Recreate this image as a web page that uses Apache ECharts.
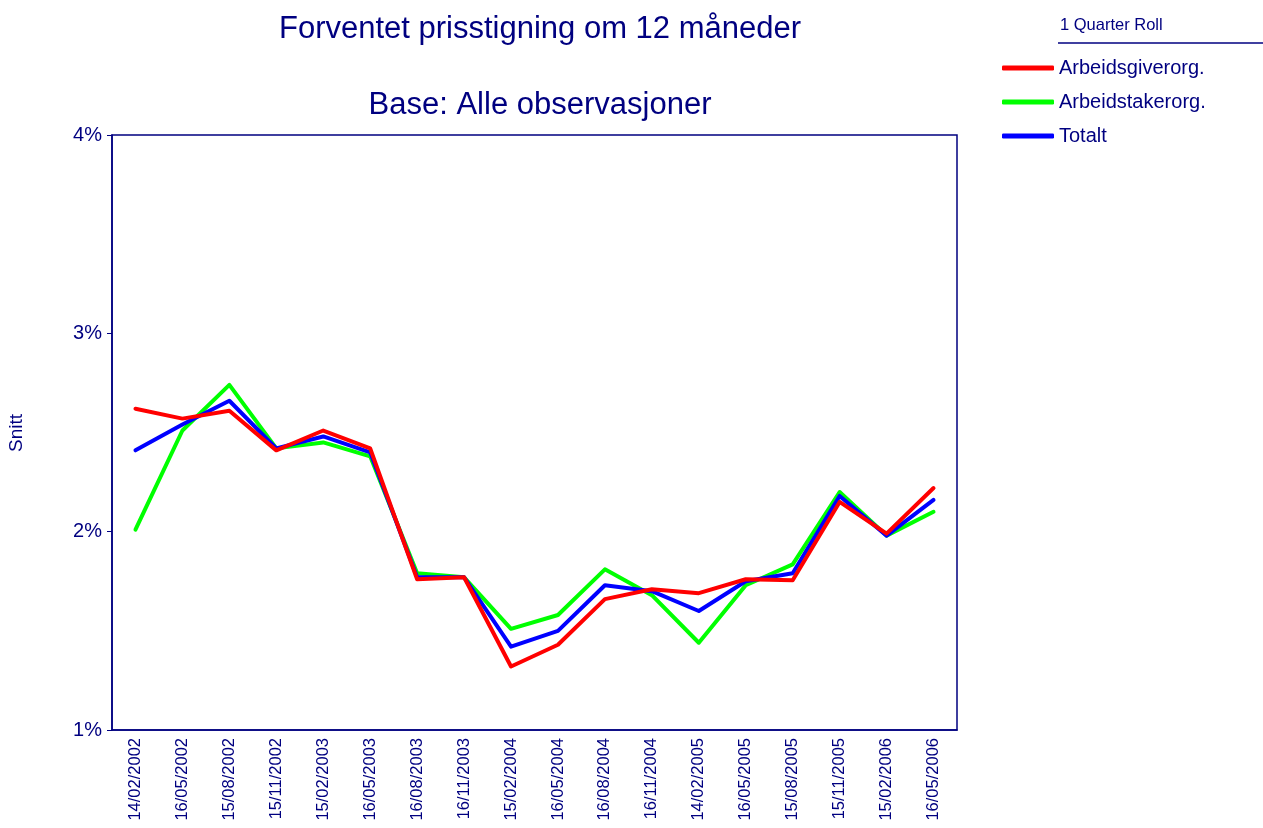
<!DOCTYPE html>
<html>
<head>
<meta charset="utf-8">
<script src="https://cdn.jsdelivr.net/npm/echarts@6/dist/echarts.min.js"></script>
<style>
html, body { margin: 0; padding: 0; background: #fff; }
#chart { width: 1263px; height: 828px; }
</style>
</head>
<body>
<div id="chart"></div>
<script>
// data
const dates = ['14/02/2002', '16/05/2002', '15/08/2002', '15/11/2002', '15/02/2003', '16/05/2003',
  '16/08/2003', '16/11/2003', '15/02/2004', '16/05/2004', '16/08/2004', '16/11/2004',
  '14/02/2005', '16/05/2005', '15/08/2005', '15/11/2005', '15/02/2006', '16/05/2006'];
const arbeidsgiver = [2.62, 2.57, 2.61, 2.41, 2.51, 2.42, 1.76, 1.77, 1.32, 1.43, 1.66, 1.71, 1.69, 1.76, 1.755, 2.15, 1.99, 2.22];
const arbeidstaker = [2.01, 2.51, 2.74, 2.42, 2.45, 2.38, 1.79, 1.77, 1.51, 1.58, 1.81, 1.68, 1.44, 1.73, 1.835, 2.20, 1.98, 2.10];
const totalt = [2.41, 2.54, 2.66, 2.42, 2.48, 2.40, 1.77, 1.77, 1.42, 1.50, 1.73, 1.70, 1.60, 1.75, 1.79, 2.18, 1.98, 2.16];
const yTicks = [1, 2, 3, 4];

const navy = '#000080';
const font = 'Arial, "Liberation Sans", sans-serif';

const chart = echarts.init(document.getElementById('chart'));

function line(name, data, color) {
  return {
    name: name,
    type: 'line',
    data: data,
    symbol: 'none',
    lineStyle: { color: color, width: 4, cap: 'round', join: 'round' },
    itemStyle: { color: color },
    animation: false
  };
}

chart.setOption({
  backgroundColor: '#fff',
  textStyle: { fontFamily: font },
  title: [
    { text: 'Forventet prisstigning om 12 måneder', left: 535, textAlign: 'center', top: 9,
      textStyle: { color: navy, fontSize: 31, fontWeight: 'normal', fontFamily: font } },
    { text: 'Base: Alle observasjoner', left: 535, textAlign: 'center', top: 85,
      textStyle: { color: navy, fontSize: 31, fontWeight: 'normal', fontFamily: font } }
  ],
  legend: {
    data: ['Arbeidsgiverorg.', 'Arbeidstakerorg.', 'Totalt'],
    orient: 'vertical',
    left: 997,
    top: 53,
    itemWidth: 52,
    itemHeight: 5,
    itemGap: 14,
    icon: 'roundRect',
    textStyle: { color: navy, fontSize: 20, fontFamily: font }
  },
  graphic: [
    { type: 'text', left: 1060, top: 17, style: { text: '1 Quarter Roll', fill: navy, fontSize: 16.5, fontFamily: font } },
    { type: 'line', shape: { x1: 1058, y1: 43, x2: 1263, y2: 43 }, style: { stroke: navy, lineWidth: 1.5 } },
    { type: 'text', rotation: Math.PI / 2, left: 7, top: 414, style: { text: 'Snitt', fill: navy, fontSize: 19, fontFamily: font } }
  ],
  grid: {
    left: 112, right: 306, top: 135, bottom: 98,
    show: true, borderColor: navy, borderWidth: 1.5, backgroundColor: '#fff'
  },
  xAxis: {
    type: 'category',
    data: dates,
    boundaryGap: true,
    axisLine: { lineStyle: { color: navy, width: 1.5 } },
    axisTick: { alignWithLabel: true, length: 6, lineStyle: { color: navy } },
    axisLabel: { rotate: 90, color: navy, fontSize: 16.5, margin: 8, fontFamily: font }
  },
  yAxis: {
    type: 'value',
    min: yTicks[0],
    max: yTicks[yTicks.length - 1],
    interval: 1,
    axisLine: { show: true, lineStyle: { color: navy, width: 1.5 } },
    axisTick: { show: true, length: 5, lineStyle: { color: navy } },
    splitLine: { show: false },
    axisLabel: { formatter: '{value}%', color: navy, fontSize: 20, margin: 10, fontFamily: font }
  },
  series: [
    line('Arbeidstakerorg.', arbeidstaker, '#00ff00'),
    line('Totalt', totalt, '#0000ff'),
    line('Arbeidsgiverorg.', arbeidsgiver, '#ff0000')
  ]
});
</script>
</body>
</html>
